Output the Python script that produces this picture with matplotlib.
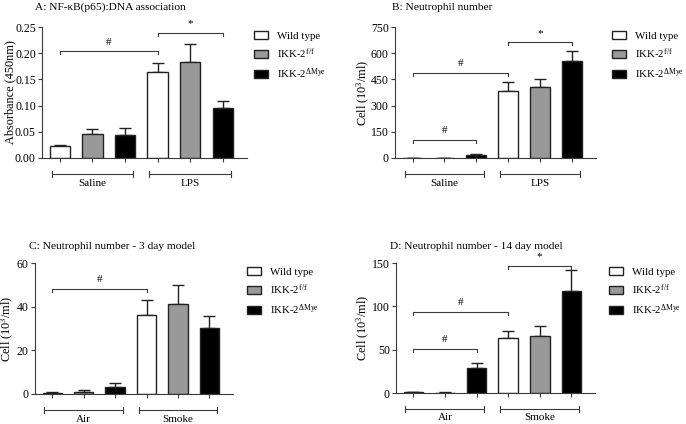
import numpy as np
import matplotlib
matplotlib.use('Agg')
import matplotlib.pyplot as plt
import matplotlib.transforms as mtrans

plt.rcParams['font.family'] = ['Liberation Serif', 'DejaVu Serif']
plt.rcParams['mathtext.fontset'] = 'custom'
plt.rcParams['mathtext.rm'] = 'Liberation Serif'
plt.rcParams['mathtext.it'] = 'Liberation Serif:italic'
plt.rcParams['font.size'] = 8.5

# series / legend
series = ['Wild type', r'IKK-2$^{\rm f/f}$', r'IKK-2$^{\Delta\rm Mye}$']
colors = ['white', '#999999', 'black']

# panel A: NF-kB absorbance (Saline then LPS, each WT, f/f, dMye)
a_vals = [0.023, 0.046, 0.043, 0.165, 0.184, 0.095]
a_errs = [0.001, 0.009, 0.014, 0.016, 0.034, 0.014]
# panel B: neutrophils, acute LPS
b_vals = [0, 1, 19, 384, 405, 557]
b_errs = [0, 1, 6, 53, 47, 57]
# panel C: 3 day smoke model
c_vals = [0.5, 1.0, 3.3, 36.3, 41.2, 30.3]
c_errs = [0.5, 0.8, 1.7, 6.7, 8.8, 5.5]
# panel D: 14 day smoke model
d_vals = [0.8, 0.5, 29.2, 63, 65.4, 117.3]
d_errs = [0.3, 0.2, 5.4, 8, 11.6, 24.2]

groups_ab = ['Saline', 'LPS']
groups_cd = ['Air', 'Smoke']

W, H = 686, 424

panels = [
    dict(px=(42, 27, 247, 158), title='A: NF-\u03baB(p65):DNA association', tpos=(35, 7),
         vals=a_vals, errs=a_errs, ylim=0.25, yticks=np.arange(0, 0.26, 0.05), fmt='{:.2f}',
         ylabel='Absorbance (450nm)', ylx=16, groups=groups_ab, leg=(254, 31),
         sig=[(0, 3, 0.2035, '#'), (3, 5, 0.2386, '*')]),
    dict(px=(395, 27, 596, 158), title='B: Neutrophil number', tpos=(392, 7),
         vals=b_vals, errs=b_errs, ylim=750, yticks=[0, 150, 300, 450, 600, 750], fmt='{:.0f}',
         ylabel='Cell (10$^3$/ml)', ylx=372, groups=groups_ab, leg=(612, 31),
         sig=[(0, 3, 487, '#'), (3, 5, 662, '*'), (0, 2, 105, '#')]),
    dict(px=(35, 263, 233, 394), title='C: Neutrophil number - 3 day model', tpos=(29, 246),
         vals=c_vals, errs=c_errs, ylim=60, yticks=[0, 20, 40, 60], fmt='{:.0f}',
         ylabel='Cell (10$^3$/ml)', ylx=16, groups=groups_cd, leg=(247, 267),
         sig=[(0, 3, 48.2, '#')]),
    dict(px=(396, 263, 595, 393), title='D: Neutrophil number - 14 day model', tpos=(390, 246),
         vals=d_vals, errs=d_errs, ylim=150, yticks=[0, 50, 100, 150], fmt='{:.0f}',
         ylabel='Cell (10$^3$/ml)', ylx=372, groups=groups_cd, leg=(609, 267),
         sig=[(0, 3, 94, '#'), (0, 2, 51, '#'), (3, 5, 147, '*')]),
]

fig = plt.figure(figsize=(W / 100, H / 100), dpi=100)
x = np.arange(6)
line_col = '#3a3a3a'

for p in panels:
    l, t, r, b = p['px']
    ax = fig.add_axes([l / W, 1 - b / H, (r - l) / W, (b - t) / H])
    bars = ax.bar(x, p['vals'], width=0.62, color=colors * 2, edgecolor='#222222',
                  linewidth=1.0, zorder=2)
    ax.errorbar(x, p['vals'], yerr=[np.zeros(6), p['errs']], fmt='none', ecolor='#222222',
                elinewidth=1.0, capsize=4, capthick=1.0, zorder=1)
    ax.set_xlim(-0.55, 5.75)
    ax.set_ylim(0, p['ylim'])
    ax.set_yticks(p['yticks'])
    ax.set_yticklabels([p['fmt'].format(v) for v in p['yticks']])
    ax.set_xticks(x)
    ax.set_xticklabels([])
    ax.tick_params(direction='out', length=3, width=0.8, color=line_col, labelsize=8.5, pad=1.5)
    for s in ['top', 'right']:
        ax.spines[s].set_visible(False)
    for s in ['left', 'bottom']:
        ax.spines[s].set_color(line_col)
        ax.spines[s].set_linewidth(0.8)
    ax.set_ylabel(p['ylabel'], fontsize=8.8)
    ax.yaxis.set_label_coords((p['ylx'] - l) / (r - l), 0.5)
    fig.text(p['tpos'][0] / W, 1 - p['tpos'][1] / H, p['title'], fontsize=8.2,
             ha='left', va='center')

    # group brackets below axis
    tr = mtrans.blended_transform_factory(ax.transData, ax.transAxes)
    ah = b - t
    for gi, g in enumerate(p['groups']):
        x0, x1 = gi * 3 - 0.25, gi * 3 + 2.25
        yb = -16 / ah
        ax.plot([x0, x1], [yb, yb], color=line_col, lw=0.8, transform=tr, clip_on=False)
        for xe in (x0, x1):
            ax.plot([xe, xe], [yb + 3 / ah, yb - 3 / ah], color=line_col, lw=0.8,
                    transform=tr, clip_on=False)
        ax.text((x0 + x1) / 2, -25 / ah, g, transform=tr, ha='center', va='center', fontsize=8)

    # significance brackets
    h = p['ylim'] * 3 / ah
    for i0, i1, yv, sym in p['sig']:
        ax.plot([i0, i0, i1, i1], [yv - h, yv, yv, yv - h], color=line_col, lw=0.8, clip_on=False)
        ax.text((i0 + i1) / 2, yv + p['ylim'] * 9 / ah, sym, ha='center', va='center', fontsize=8)

    lx, ly = p['leg']
    ax.legend(bars[:3], series, loc='upper left',
              bbox_to_anchor=((lx - l) / (r - l), 1 - (ly - t) / ah), frameon=False,
              handlelength=1.3, handleheight=0.7, handletextpad=0.8, labelspacing=0.55,
              fontsize=7.8, borderaxespad=0, borderpad=0)

fig.savefig('out.png', dpi=100)
